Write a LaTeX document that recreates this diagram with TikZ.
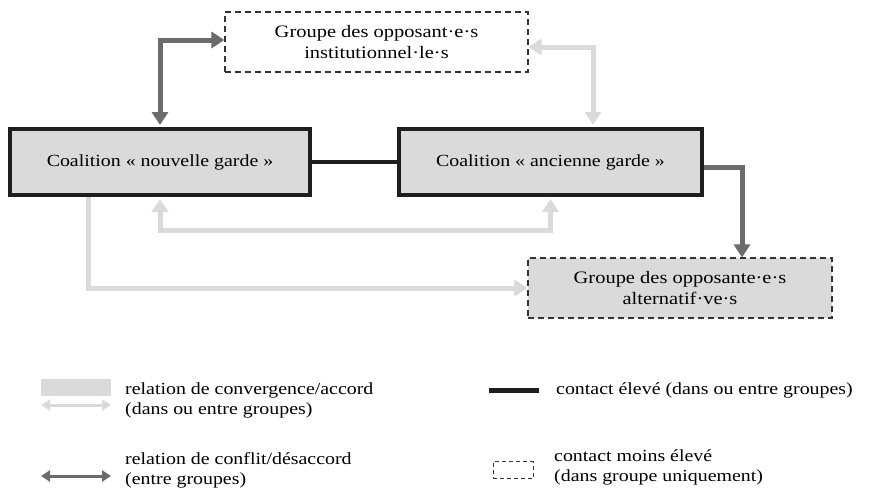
\documentclass[tikz,border=0pt]{standalone}
\usepackage{fontspec}
\setmainfont[FakeStretch=1.17]{Liberation Serif}
\usetikzlibrary{arrows.meta,calc,backgrounds}
\definecolor{lgray}{HTML}{DADADA}
\definecolor{dgray}{HTML}{6B6B6B}
\definecolor{bord}{HTML}{1E1E1E}
\definecolor{dash}{HTML}{333333}
\begin{document}
\begin{tikzpicture}[x=1pt,y=-1pt,
  every node/.style={font=\fontsize{17.5}{20.5}\selectfont, text=black},
  coal/.style={draw=bord, line width=4pt, fill=lgray, minimum width=300pt, minimum height=66pt, inner sep=0pt},
  grp/.style={draw=dash, line width=1.2pt, dash pattern=on 6pt off 4pt, minimum width=303pt, minimum height=60pt, inner sep=0pt, align=center},
  conf/.style={draw=dgray, line width=5pt},
  conv/.style={draw=lgray, line width=5pt},
  legtext/.style={anchor=west, align=left, inner sep=0pt, font=\fontsize{17}{20}\selectfont}
]
\useasboundingbox (0,0) rectangle (870,493);

% main nodes
\node[grp, fill=white] (top) at (376.5,42) {Groupe des opposant·e·s\\institutionnel·le·s};
\node[coal] (nl) at (160,162) {\fontsize{17}{20}\selectfont Coalition «~nouvelle garde~»};
\node[coal, minimum width=303pt] (nr) at (550.5,162) {\fontsize{17}{20}\selectfont Coalition «~ancienne garde~»};
\node[grp, fill=lgray, minimum width=304pt] (bt) at (680,288) {Groupe des opposante·e·s\\alternatif·ve·s};

\coordinate (y230) at (0,230);
\coordinate (x742) at (742,0);
\coordinate (x593) at (593,0);

\begin{scope}[on background layer]
  \fill[white] (0,0) rectangle (870,493);
  % high contact line
  \draw[draw=bord, line width=4pt] (nl.east) -- (nr.west);
  % conflict arrows
  \draw[conf, {Triangle[length=13pt,width=16pt]}-{Triangle[length=13pt,width=16pt]}, shorten <=2pt]
     (nl.north) |- ($(top.west)+(0,-2)$);
  \draw[conf, -{Triangle[length=13pt,width=16pt]}]
     ($(nr.east)+(0,5)$) -| (bt.north -| x742);
  % convergence arrows
  \draw[conv, {Triangle[length=13pt,width=16pt]}-{Triangle[length=13pt,width=16pt]}, shorten >=2pt]
     ($(top.east)+(0,5)$) -| (nr.north -| x593);
  \draw[conv, {Triangle[length=13pt,width=16pt]}-{Triangle[length=13pt,width=16pt]}, shorten <=2pt, shorten >=2pt]
     (nl.south) -- (nl.south |- y230) -| (nr.south);
  \draw[conv, -{Triangle[length=13pt,width=16pt]}]
     ($(nl.south)+(-72,0)$) |- (bt.west);
\end{scope}

% legend
\node[fill=lgray, minimum width=70pt, minimum height=17pt, inner sep=0pt] (lrect) at (76,387.5) {};
\coordinate (lca) at (41,405);
\coordinate (lcb) at (111,405);
\draw[conv, line width=3pt, {Triangle[length=9pt,width=11pt]}-{Triangle[length=9pt,width=11pt]}] (lca) -- (lcb);
\node[legtext] (lt1) at (125,400) {relation de convergence/accord\\(dans ou entre groupes)};

\coordinate (lda) at (41,476);
\coordinate (ldb) at (111,476);
\draw[conf, line width=3pt, {Triangle[length=9pt,width=11pt]}-{Triangle[length=9pt,width=11pt]}] (lda) -- (ldb);
\node[legtext] (lt2) at (125,470) {relation de conflit/désaccord\\(entre groupes)};

\coordinate (lba) at (489,390);
\coordinate (lbb) at (539,390);
\draw[draw=bord, line width=5pt] (lba) -- (lbb);
\node[legtext] (lt3) at (556,390) {contact élevé (dans ou entre groupes)};

\node[draw=dash, line width=0.8pt, dash pattern=on 4pt off 3pt, minimum width=40pt, minimum height=17pt, inner sep=0pt] (ldash) at (513,470) {};
\node[legtext] (lt4) at (554,467) {contact moins élevé\\(dans groupe uniquement)};
\end{tikzpicture}
\end{document}
